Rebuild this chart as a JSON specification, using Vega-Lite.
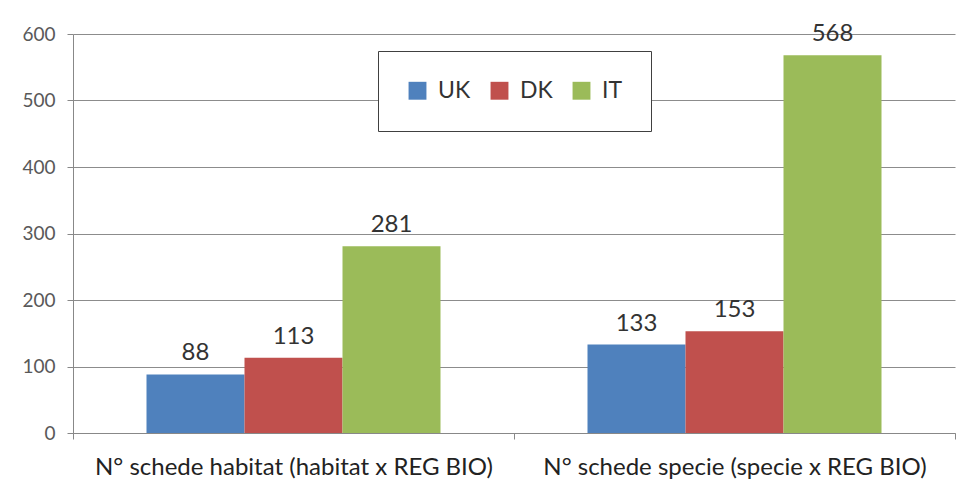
{
  "$schema": "https://vega.github.io/schema/vega-lite/v6.json",
  "width": 882,
  "height": 399,
  "autosize": {"type": "none"},
  "padding": {"left": 73, "top": 34, "right": 8, "bottom": 53},
  "background": "white",
  "config": {"view": {"stroke": null}, "font": "Lato"},
  "data": {
    "values": [
      {"cat": "N° schede habitat (habitat x REG BIO)", "country": "UK", "value": 88},
      {"cat": "N° schede habitat (habitat x REG BIO)", "country": "DK", "value": 113},
      {"cat": "N° schede habitat (habitat x REG BIO)", "country": "IT", "value": 281},
      {"cat": "N° schede specie (specie x REG BIO)", "country": "UK", "value": 133},
      {"cat": "N° schede specie (specie x REG BIO)", "country": "DK", "value": 153},
      {"cat": "N° schede specie (specie x REG BIO)", "country": "IT", "value": 568}
    ]
  },
  "encoding": {
    "x": {
      "field": "cat",
      "type": "nominal",
      "sort": null,
      "scale": {"paddingInner": 0, "paddingOuter": 0},
      "axis": {
        "title": null,
        "labelAngle": 0,
        "labelLimit": 0,
        "ticks": true,
        "tickBand": "extent",
        "tickSize": 6,
        "tickColor": "#888888",
        "domainColor": "#888888",
        "labelFontSize": 24,
        "labelColor": "#222222",
        "labelPadding": 16
      }
    },
    "xOffset": {
      "field": "country",
      "type": "nominal",
      "sort": ["UK", "DK", "IT"],
      "scale": {"paddingInner": 0, "paddingOuter": 0.75}
    },
    "y": {
      "field": "value",
      "type": "quantitative",
      "scale": {"domain": [0, 600]},
      "axis": {
        "title": null,
        "values": [0, 100, 200, 300, 400, 500, 600],
        "domainColor": "#888888",
        "tickColor": "#888888",
        "tickSize": 6,
        "gridColor": "#8c8c8c",
        "gridWidth": 1,
        "labelFontSize": 19,
        "labelColor": "#595959",
        "labelPadding": 12
      }
    }
  },
  "layer": [
    {
      "mark": {"type": "bar"},
      "encoding": {
        "color": {
          "field": "country",
          "type": "nominal",
          "scale": {"domain": ["UK", "DK", "IT"], "range": ["#4f81bd", "#c0504d", "#9bbb59"]},
          "legend": {
            "title": null,
            "orient": "none",
            "legendX": 305,
            "legendY": 17,
            "direction": "horizontal",
            "strokeColor": "#404040",
            "fillColor": "white",
            "padding": 28,
            "symbolType": "square",
            "symbolSize": 320,
            "symbolStrokeWidth": 0,
            "labelFontSize": 23,
            "labelColor": "#333333",
            "labelOffset": 9,
            "columnPadding": 17
          }
        }
      }
    },
    {
      "mark": {"type": "text", "baseline": "bottom", "dy": -9, "fontSize": 24, "color": "#333333"},
      "encoding": {
        "text": {"field": "value", "type": "quantitative"}
      }
    }
  ]
}
